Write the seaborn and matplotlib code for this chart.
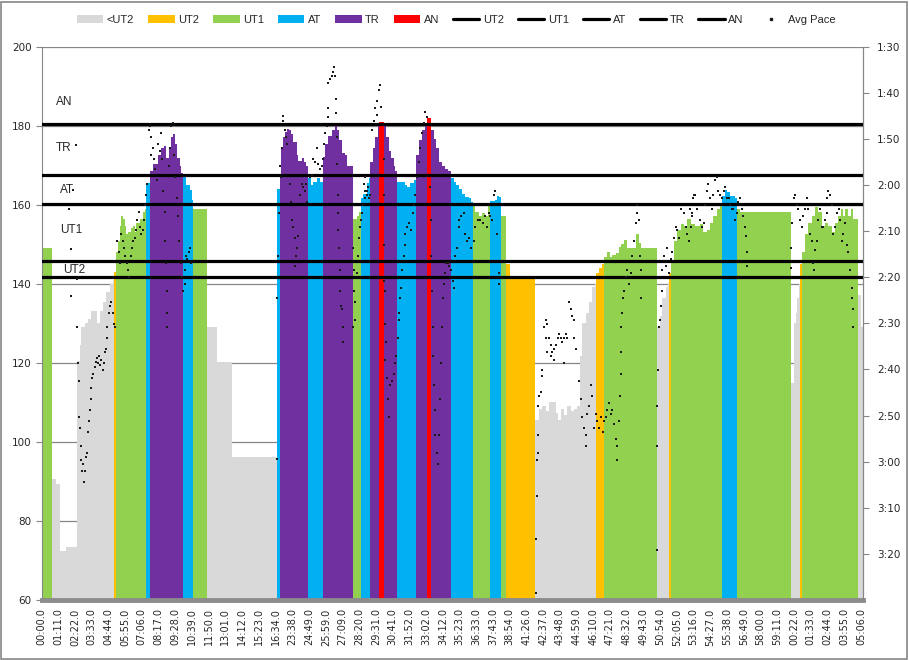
import numpy as np
import matplotlib
matplotlib.use("Agg")
import matplotlib.pyplot as plt
import seaborn as sns
from matplotlib.patches import Patch, Rectangle
from matplotlib.lines import Line2D

# ---------------- data ----------------
tick_labels = ["00:00.0", "01:11.0", "02:22.0", "03:33.0", "04:44.0", "05:55.0", "07:06.0", "08:17.0",
               "09:28.0", "10:39.0", "11:50.0", "13:01.0", "14:12.0", "15:23.0", "16:34.0", "23:38.0",
               "24:49.0", "25:59.0", "27:09.0", "28:20.0", "29:31.0", "30:41.0", "31:52.0", "33:02.0",
               "34:12.0", "35:23.0", "36:33.0", "37:43.0", "38:54.0", "41:26.0", "42:37.0", "43:48.0",
               "44:59.0", "46:10.0", "47:21.0", "48:32.0", "49:43.0", "50:54.0", "52:05.0", "53:16.0",
               "54:27.0", "55:38.0", "56:49.0", "58:00.0", "59:11.0", "00:22.0", "01:33.0", "02:44.0",
               "03:55.0", "05:06.0"]
tick_every = 71
n_samples = 3488

zone_names = ["<UT2", "UT2", "UT1", "AT", "TR", "AN"]
zone_colors = ["#D9D9D9", "#FFC000", "#92D050", "#00B0F0", "#7030A0", "#FF0000"]

# zone runs: start sample -> zone
zone_start = [0, 45, 308, 318, 445, 459, 601, 643, 701, 1001, 1013, 1130, 1194, 1321, 1357, 1396,
              1434, 1454, 1509, 1590, 1637, 1655, 1740, 1831, 1906, 1952, 1972, 2095, 2353, 2388,
              2615, 2664, 2672, 2888, 2952, 3181, 3221, 3228, 3468]
zone_run = ["UT1", "<UT2", "UT2", "UT1", "AT", "TR", "AT", "UT1", "<UT2", "AT", "TR", "AT", "TR", "UT1",
            "AT", "TR", "AN", "TR", "AT", "TR", "AN", "TR", "AT", "UT1", "AT", "UT1", "UT2", "<UT2",
            "UT2", "UT1", "<UT2", "UT2", "UT1", "AT", "UT1", "<UT2", "UT2", "UT1", "<UT2"]

# heart rate (bpm): step start sample and value
hr_start = [0, 45, 60, 77, 105, 152, 162, 169, 183, 197, 211, 226, 237, 247, 261, 275, 290, 304, 308,
            318, 325, 332, 339, 346, 353, 360, 367, 381, 388, 396, 403, 417, 431, 438, 445, 459, 473,
            495, 509, 520, 530, 540, 551, 558, 566, 577, 587, 594, 601, 615, 629, 639, 643, 701, 744,
            808, 1001, 1013, 1017, 1024, 1034, 1044, 1052, 1059, 1069, 1084, 1090, 1105, 1115, 1123,
            1130, 1143, 1154, 1169, 1183, 1194, 1204, 1218, 1232, 1246, 1256, 1265, 1275, 1289, 1296,
            1321, 1338, 1349, 1357, 1366, 1381, 1390, 1396, 1406, 1417, 1429, 1434, 1454, 1463, 1474,
            1485, 1495, 1502, 1509, 1542, 1552, 1566, 1580, 1590, 1601, 1616, 1627, 1637, 1655, 1665,
            1675, 1686, 1701, 1715, 1726, 1740, 1750, 1761, 1774, 1785, 1799, 1816, 1825, 1831, 1842,
            1856, 1870, 1884, 1896, 1906, 1924, 1934, 1944, 1952, 1972, 1988, 2095, 2112, 2126, 2141,
            2155, 2183, 2194, 2204, 2218, 2233, 2247, 2261, 2275, 2286, 2296, 2311, 2325, 2339, 2349,
            2353, 2367, 2381, 2388, 2402, 2414, 2424, 2438, 2452, 2462, 2473, 2487, 2523, 2537, 2547,
            2615, 2626, 2636, 2650, 2660, 2664, 2672, 2686, 2700, 2714, 2728, 2742, 2757, 2775, 2796,
            2810, 2824, 2839, 2853, 2867, 2881, 2888, 2902, 2912, 2923, 2945, 2952, 2966, 3181, 3195,
            3204, 3209, 3215, 3221, 3228, 3242, 3256, 3270, 3284, 3298, 3313, 3327, 3341, 3355, 3369,
            3383, 3393, 3402, 3411, 3425, 3436, 3445, 3468, 3478]
hr_bpm = [149.0, 90.5, 89.3, 72.3, 73.3, 120.5, 124.5, 129.0, 130.0, 131.0, 133.0, 133.0, 130.0, 133.0,
          135.5, 138.0, 140.0, 141.0, 143.1, 148.1, 150.9, 154.5, 157.2, 156.3, 154.5, 152.7, 153.1,
          154.0, 154.5, 153.1, 155.4, 156.3, 158.1, 159.0, 165.4, 168.5, 170.4, 172.6, 174.4, 174.9,
          171.7, 174.4, 177.2, 177.9, 175.4, 171.7, 169.9, 168.1, 167.2, 164.9, 163.6, 161.3, 159.0,
          129.1, 120.2, 96.1, 164.0, 167.6, 174.4, 177.2, 178.5, 179.2, 179.0, 177.9, 175.8, 172.6,
          171.0, 171.9, 170.8, 169.9, 166.7, 164.9, 165.8, 166.7, 165.8, 172.0, 175.4, 177.4, 179.0,
          179.9, 179.0, 176.3, 173.1, 172.6, 169.9, 156.3, 157.2, 158.1, 161.7, 162.6, 165.4, 166.7,
          170.8, 174.4, 177.2, 179.9, 181.0, 179.9, 177.2, 173.5, 171.7, 169.9, 168.5, 165.8, 164.9,
          164.6, 165.4, 166.3, 172.6, 176.3, 179.0, 180.1, 181.9, 179.0, 176.7, 174.4, 170.8, 169.9,
          169.0, 168.5, 166.7, 165.8, 164.9, 164.0, 162.8, 161.9, 161.7, 160.8, 159.9, 158.1, 157.2,
          157.9, 157.2, 159.9, 161.0, 161.3, 162.2, 161.9, 157.2, 145.0, 141.1, 105.5, 108.2, 109.1,
          107.7, 110.2, 107.3, 105.5, 108.2, 106.8, 109.1, 107.7, 108.2, 109.1, 121.8, 130.0, 132.7,
          135.4, 139.1, 140.0, 142.7, 144.0, 145.0, 146.8, 148.1, 146.8, 147.2, 147.7, 149.2, 150.0,
          151.0, 149.0, 152.7, 150.4, 149.0, 129.1, 131.8, 136.3, 139.1, 140.4, 142.7, 145.4, 150.9,
          153.6, 155.0, 154.5, 156.3, 155.2, 154.5, 155.0, 153.1, 153.6, 155.4, 157.2, 159.0, 160.4,
          162.2, 163.7, 163.1, 162.2, 161.7, 159.0, 158.1, 115.0, 130.0, 132.7, 136.3, 140.0, 145.0,
          148.1, 152.7, 155.4, 157.2, 159.5, 158.1, 154.5, 155.4, 154.5, 153.1, 155.4, 157.2, 159.0,
          157.2, 159.0, 157.2, 159.0, 156.3, 137.2, 129.1]

# zone threshold lines (bpm)
thr_names = ["UT2", "UT1", "AT", "TR", "AN"]
thr_bpm = [141.6, 145.8, 160.2, 167.5, 180.5]
# zone text labels inside the plot
lbl_text = ["AN", "TR", "AT", "UT1", "UT2"]
lbl_x = [62, 62, 79, 79, 91]
lbl_y = [186.0, 174.4, 163.8, 153.7, 143.5]

# average pace (seconds per 500 m) at sample index
pace_sample = [115, 124, 127, 134, 148, 152, 152, 155, 158, 158, 162, 166, 169, 173, 176, 180, 183, 187, 194,
               197, 202, 204, 209, 211, 216, 220, 226, 230, 234, 240, 244, 248, 254, 260, 264, 268, 272,
               277, 279, 285, 291, 296, 302, 308, 313, 322, 328, 333, 339, 344, 350, 356, 361, 367, 373,
               378, 384, 390, 395, 401, 407, 412, 418, 424, 429, 435, 441, 445, 448, 455, 460, 466, 472,
               463, 477, 483, 489, 494, 502, 506, 511, 517, 523, 526, 528, 531, 534, 534, 540, 545, 551,
               557, 562, 568, 574, 579, 585, 591, 596, 602, 608, 613, 619, 625, 630, 636, 611,
               1001, 1001, 1024, 1027, 1034, 1038, 1044, 1020, 1013, 1017, 1010, 1006, 1055, 1058, 1062,
               1069, 1076, 1083, 1081, 1076, 1090, 1098, 1105, 1112, 1119, 1123, 1129, 1140, 1147, 1154,
               1161, 1168, 1175, 1182, 1189, 1194, 1199, 1204, 1211, 1215, 1218, 1218, 1225, 1232, 1239,
               1243, 1246, 1250, 1249, 1253, 1256, 1260, 1260, 1260, 1264, 1267, 1267, 1270, 1274, 1279,
               1281, 1324, 1327, 1328, 1331, 1331, 1324, 1338, 1345, 1349, 1352, 1355, 1359, 1366, 1373,
               1381, 1388, 1395,
               1368, 1375, 1382, 1389, 1372, 1403, 1411, 1418, 1425, 1432, 1439, 1443, 1425, 1453, 1453,
               1454, 1456, 1457, 1460, 1463, 1460, 1467, 1471, 1474, 1481, 1488, 1495, 1503, 1507, 1514,
               1517, 1519, 1524, 1528, 1531, 1538, 1542, 1545, 1552, 1559, 1570, 1576, 1580, 1587, 1594,
               1602, 1609, 1616, 1623, 1630, 1637, 1651, 1654, 1655, 1658, 1661, 1662, 1665, 1669, 1672,
               1679, 1684, 1689, 1694, 1698, 1701, 1703, 1708, 1712, 1718, 1726, 1732, 1740, 1746, 1752,
               1757, 1764, 1771, 1774, 1783, 1793, 1800, 1807, 1817, 1825, 1835, 1842, 1853, 1863, 1873,
               1882, 1892, 1899, 1906, 1913, 1920, 1927, 1934, 1941, 1941,
               2099, 2099, 2103, 2103, 2106, 2106, 2108, 2113, 2120, 2127, 2127, 2134, 2141, 2148, 2141,
               2155, 2162, 2169, 2176, 2183, 2191, 2198, 2205, 2212, 2219, 2226, 2230, 2148, 2162, 2176,
               2219, 2240, 2247, 2254, 2261, 2261, 2268, 2282, 2290, 2297, 2304, 2311, 2311, 2318, 2325,
               2332, 2339, 2346, 2353, 2360, 2367, 2374, 2382, 2389, 2396, 2403, 2410, 2417, 2424, 2431,
               2438, 2445, 2445, 2452, 2457, 2459, 2459, 2462, 2466, 2469, 2474, 2481, 2488, 2495, 2502,
               2509, 2516, 2523, 2527, 2530, 2537, 2544, 2544, 2541, 2615, 2615, 2615, 2619, 2622, 2626,
               2629, 2633, 2636, 2643, 2650, 2657, 2665, 2672, 2679, 2686, 2693, 2700, 2707, 2714, 2728,
               2735, 2742, 2749, 2757, 2764, 2771,
               2754, 2761, 2768, 2775, 2782, 2796, 2804, 2811, 2818, 2825, 2832, 2839, 2846, 2853, 2860,
               2867, 2874, 2881, 2888, 2896, 2903, 2910, 2917, 2924, 2931, 2938, 2945, 2952, 2959, 2966,
               2973, 2980, 2987, 2992, 2995, 2995, 3181, 3183, 3186, 3193, 3200, 3207, 3214, 3221, 3228,
               3235, 3242, 3249, 3256, 3263, 3270, 3275, 3280, 3285, 3292, 3299, 3306, 3313, 3320, 3327,
               3334, 3337, 3341, 3348, 3355, 3362, 3370, 3377, 3384, 3391, 3398, 3405, 3412, 3419, 3426,
               3433, 3440, 3440, 3445, 3445]
pace_sec = [125.3, 133.9, 144.0, 121.1, 111.4, 140.4, 150.7, 158.7, 162.6, 170.3, 172.7, 176.6, 179.7, 182.0,
            180.5, 184.4, 182.0, 178.9, 178.1, 173.5, 171.1, 168.8, 166.5, 164.1, 161.8, 161.0, 159.4,
            158.3, 157.5, 158.7, 157.1, 159.1, 157.9, 160.2, 158.7, 156.3, 155.5, 153.2, 150.9, 147.8,
            146.2, 145.4, 147.8, 150.1, 150.9, 132.2, 134.5, 136.9, 130.6, 132.2, 133.7, 135.3, 136.9,
            138.4, 140.0, 135.3, 133.7, 132.2, 131.4, 129.8, 127.5, 125.9, 129.1, 130.6, 129.8, 127.5,
            124.4, 122.1, 119.7, 108.0, 107.3, 109.6, 111.9, 113.5, 114.3, 116.6, 119.0, 111.2, 112.7,
            108.8, 114.3, 121.3, 125.9, 132.2, 136.9, 143.1, 147.8, 150.9, 115.8, 111.9, 107.3, 106.5,
            113.5, 118.2, 122.8, 126.7, 132.2, 136.9, 140.0, 143.1, 138.4, 135.3, 136.1, 134.5, 133.7,
            136.9, 141.5,
            144.6, 179.5, 105.1, 106.1, 108.0, 109.6, 111.2, 111.9, 115.8, 118.2, 126.0, 135.3, 119.7,
            123.6, 127.5, 129.1, 131.4, 133.7, 135.3, 137.6, 131.0, 122.1, 119.7, 120.5, 121.3, 119.7,
            123.6, 118.2, 117.8, 114.3, 115.0, 111.9, 115.4, 116.6, 115.8, 114.3, 111.2, 108.8, 107.3,
            105.3, 103.4, 97.9, 97.1, 96.4, 95.6, 94.4, 96.4, 101.4, 104.5, 109.6, 115.4, 122.1, 126.0,
            129.8, 133.7, 138.4, 143.1, 146.2, 147.0, 150.9, 154.0, 133.7, 138.4, 143.1, 145.4, 149.3,
            150.9, 139.2, 135.3, 131.4, 129.1, 127.5, 126.0, 124.4, 122.8, 121.3, 120.5, 122.1,
            119.7, 121.3, 122.1, 122.8, 118.2, 108.0, 106.1, 103.4, 101.8, 99.5, 98.3, 103.0, 104.9,
            114.3, 122.1, 133.0, 140.8, 143.1, 150.1, 154.0, 157.9, 161.8, 166.5, 170.3, 163.3, 162.6,
            161.0, 158.7, 157.1, 153.2, 149.3, 147.8, 144.6, 142.3, 138.4, 135.3, 133.0, 130.6, 129.1,
            128.3, 129.8, 126.0, 124.4, 122.1, 118.2, 115.0, 111.9, 108.8, 106.5, 104.1, 105.3, 120.5,
            127.5, 135.3, 143.1, 150.9, 157.1, 163.3, 168.8, 174.2, 178.1, 180.5, 174.2, 166.5, 158.7,
            150.9, 144.6, 141.5, 139.2, 136.9, 136.9, 137.6, 138.4, 140.8, 142.3, 135.3, 133.7, 129.1,
            127.5, 126.7, 126.0, 130.6, 132.2, 131.4, 133.7, 132.2, 129.1, 127.5, 127.5, 128.3, 126.7,
            129.1, 126.0, 126.7, 127.5, 122.1, 121.3, 130.6, 139.2, 141.5,
            208.5, 196.8, 187.5, 179.7, 178.1, 174.2, 168.0, 165.7, 164.9, 161.4, 160.2, 150.9, 149.3,
            150.1, 153.2, 153.2, 154.8, 156.3, 155.5, 154.8, 153.2, 152.4, 153.2, 154.0, 153.2, 152.4,
            153.2, 156.3, 157.1, 157.9, 158.7, 145.4, 147.0, 148.5, 149.3, 153.2, 155.5, 162.6, 166.5,
            170.3, 172.7, 174.2, 176.6, 169.6, 168.0, 163.3, 165.7, 172.7, 169.6, 171.1, 172.7, 170.3,
            173.5, 171.1, 170.3, 168.8, 167.2, 169.6, 168.8, 171.9, 175.0, 176.6, 179.7, 171.1, 165.7,
            161.0, 156.3, 150.9, 147.8, 144.6, 143.1, 140.0, 138.4, 141.5, 139.2, 135.3, 132.2, 128.3,
            126.0, 124.4, 127.5, 138.4, 144.6, 135.3, 168.0, 176.6, 199.2, 160.2, 150.9, 149.3, 146.2,
            143.1, 138.4, 135.3, 137.6, 133.7, 139.2, 136.1, 134.5, 131.4, 129.1, 129.8, 131.4, 125.2,
            126.0, 129.1, 130.6, 132.2, 129.1, 126.7, 122.1,
            125.2, 126.0, 122.8, 122.1, 125.2, 127.5, 129.1, 128.3, 124.4, 121.3, 119.7, 122.8, 125.2,
            122.1, 119.0, 118.2, 121.3, 122.1, 122.8, 121.3, 120.5, 122.8, 122.8, 124.4, 125.2, 125.2,
            127.5, 126.0, 123.6, 122.8, 125.2, 126.7, 129.1, 131.0, 134.5, 137.6, 133.7, 138.0, 128.3,
            122.8, 122.1, 124.4, 125.2, 127.5, 129.1, 126.7, 125.2, 122.8, 125.2, 130.6, 132.2, 136.9,
            138.4, 134.1, 132.2, 127.5, 125.2, 129.1, 129.1, 127.5, 126.0, 122.8, 121.3, 122.1, 124.4,
            130.6, 129.1, 126.0, 125.2, 127.5, 132.2, 130.6, 128.3, 133.0, 134.5, 138.4, 142.3, 144.6,
            147.0, 150.9]

# ---------------- plot ----------------
sns.set_style("white")
plt.rcParams['font.family'] = ['DejaVu Sans']

W, H = 909, 660
fig = plt.figure(figsize=(W / 100, H / 100), dpi=100)
ax = fig.add_axes([41.5 / W, 1 - 600 / H, (863 - 41.5) / W, (600 - 46.6) / H])

color_map = dict(zip(zone_names, zone_colors))
starts = np.array(hr_start, dtype=float)
ends = np.append(starts[1:], n_samples)
idx = np.searchsorted(np.array(zone_start), starts, side="right") - 1
bar_colors = [color_map[zone_run[i]] for i in idx]
ax.bar(starts, np.array(hr_bpm) - 60, width=ends - starts, bottom=60, align="edge",
       color=bar_colors, linewidth=0, zorder=2)

for v in thr_bpm:
    ax.axhline(v, color="black", lw=2.3, zorder=3)

for t, x, y in zip(lbl_text, lbl_x, lbl_y):
    ax.text(x, y, t, ha="left", va="center", fontsize=8.5, family="Liberation Sans", zorder=4)

ax.set_xlim(0, n_samples)
ax.set_ylim(60, 200)
ax.set_yticks(range(60, 201, 20))
ax.yaxis.grid(True, color="#868686", lw=0.9)
ax.set_axisbelow(True)
ax.set_xticks(np.arange(len(tick_labels)) * tick_every)
ax.set_xticklabels(tick_labels, rotation=90, fontsize=7)
ax.tick_params(axis="x", length=0, pad=6)
ax.tick_params(axis="y", labelsize=7.5, length=4, color="#868686", direction="out", left=True, pad=3)
ax.spines["top"].set_visible(False)
ax.spines["left"].set_color("#868686")
ax.spines["right"].set_color("#868686")
ax.spines["bottom"].set_color("#8c8c8c")
ax.spines["bottom"].set_linewidth(3.5)

ax2 = ax.twinx()
sns.scatterplot(x=pace_sample, y=pace_sec, ax=ax2, marker="s", s=3.5, color="#1a1a1a",
                linewidth=0, legend=False, zorder=5)
ax2.set_ylim(210, 90)
ticks2 = list(range(90, 201, 10))
ax2.set_yticks(ticks2)
ax2.set_yticklabels([f"{t // 60}:{t % 60:02d}" for t in ticks2])
ax2.tick_params(axis="y", labelsize=7.5, length=4, color="#868686", direction="out", right=True, pad=6)
for s in ["top", "left", "bottom"]:
    ax2.spines[s].set_visible(False)
ax2.spines["right"].set_color("#868686")
ax2.set_xlim(0, n_samples)

# legend
handles = [Patch(facecolor=c, edgecolor="none") for c in zone_colors]
labels = list(zone_names)
handles += [Line2D([0], [0], color="black", lw=2.3) for _ in thr_names]
labels += thr_names
handles += [Line2D([0], [0], color="#1a1a1a", marker="s", markersize=1.5, lw=0)]
labels += ["Avg Pace"]
fig.legend(handles, labels, loc="center", bbox_to_anchor=(456 / W, 1 - 20 / H), ncol=12,
           frameon=False, prop={"family": "Liberation Sans", "size": 8}, handlelength=2.4,
           handleheight=0.65, handletextpad=0.3, columnspacing=1.25)

fig.patches.append(Rectangle((1 / W, 1 / H), 1 - 3 / W, 1 - 3 / H, transform=fig.transFigure,
                             fill=False, edgecolor="#868686", lw=1.2))

fig.savefig("out.png", dpi=100)
